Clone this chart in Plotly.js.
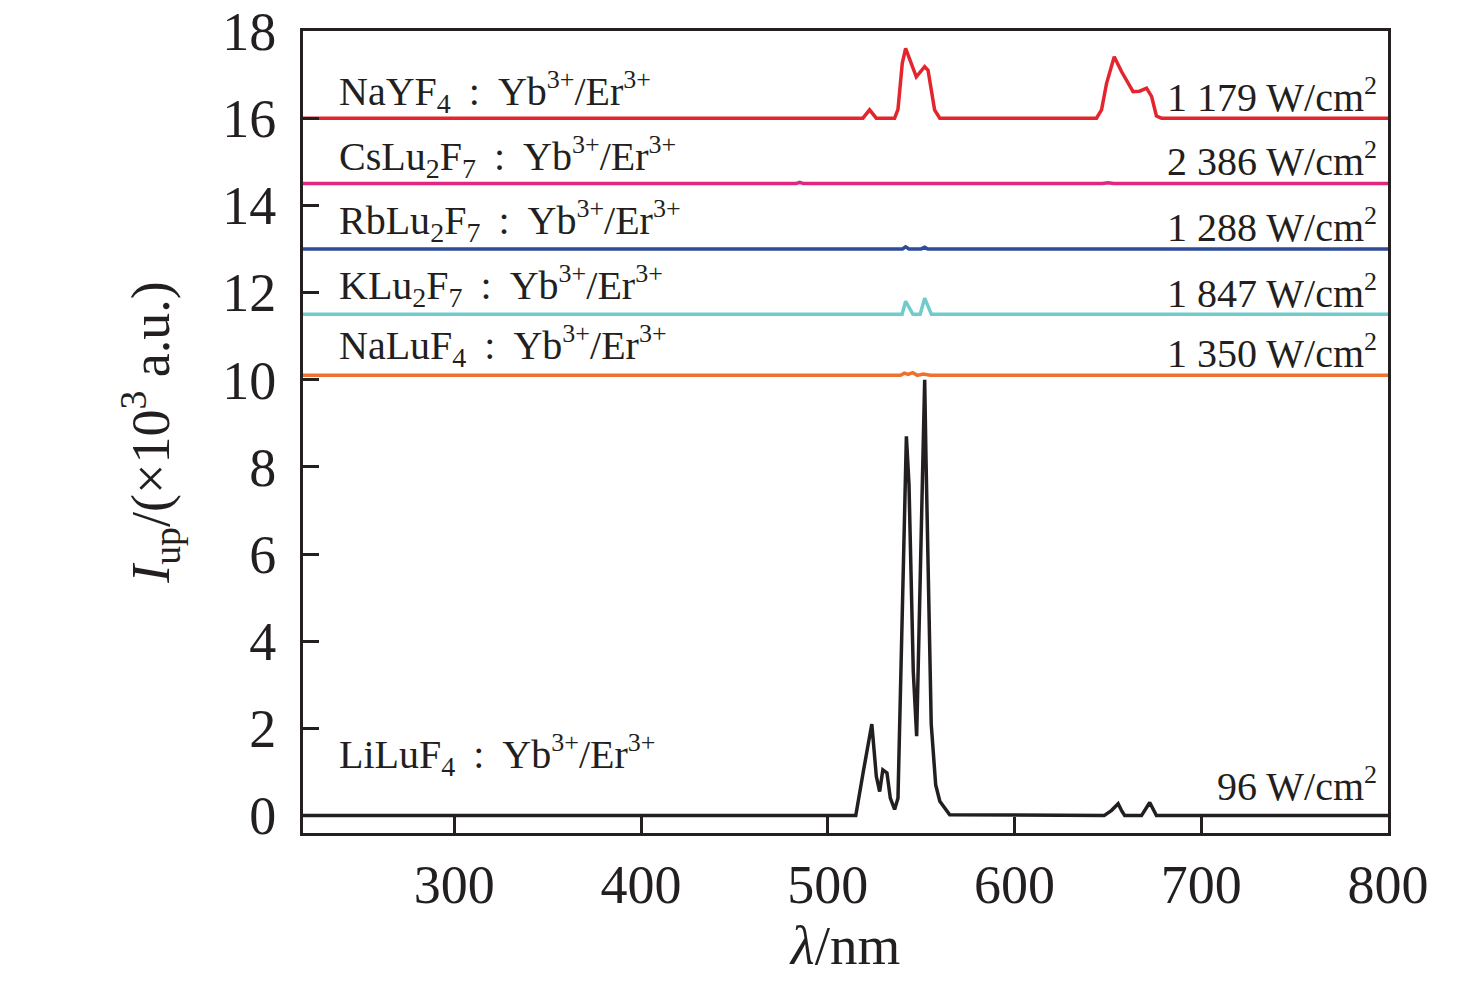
<!DOCTYPE html>
<html>
<head>
<meta charset="utf-8">
<script src="https://cdn.plot.ly/plotly-3.0.1.min.js"></script>
<style>
  html, body { margin: 0; padding: 0; background: #fff; }
  #chart { width: 1476px; height: 984px; }
</style>
</head>
<body>
<div id="chart"></div>
<script>
// spectra (each one drawn at its own vertical offset)
const liluWl = [219, 515, 519, 523.6, 526, 527.8, 529.5, 531.7, 533.5, 535.8, 537.6, 542.1, 543.5, 545.8, 547.6, 551.9, 552.6, 555.4, 557.8, 560, 565.3, 648, 652, 655.5, 657.5, 659, 668, 672.4, 676, 800];
const liluI  = [0, 0, 1.0, 2.1, 0.9, 0.55, 1.05, 0.98, 0.4, 0.14, 0.4, 8.7, 7.6, 3.3, 1.82, 10.0, 8.2, 2.1, 0.7, 0.33, 0.02, 0, 0.12, 0.27, 0.1, 0, 0, 0.3, 0, 0];

const nayWl = [219, 518.8, 522.4, 526, 535.8, 537.6, 539.9, 541.7, 547.4, 551.9, 553.7, 557.2, 560, 643.9, 646.6, 649.3, 653.4, 657.3, 663.5, 667, 670.7, 673.4, 676, 678.7, 800];
const nayI  = [16, 16, 16.19, 16, 16, 16.2, 17.26, 17.6, 16.95, 17.18, 17.1, 16.19, 16, 16, 16.19, 16.8, 17.41, 17.07, 16.61, 16.62, 16.69, 16.5, 16.05, 16, 16];

const csWl = [219, 483, 485, 487, 647, 650, 653, 800];
const csI  = [14.5, 14.5, 14.53, 14.5, 14.5, 14.52, 14.5, 14.5];

const rbWl = [219, 540, 541.7, 543.5, 550, 551.9, 553.5, 800];
const rbI  = [13, 13, 13.05, 13, 13, 13.04, 13, 13];

const kWl = [219, 539.8, 541.7, 545.6, 549.5, 551.9, 555.5, 800];
const kI  = [11.5, 11.5, 11.8, 11.5, 11.5, 11.87, 11.5, 11.5];

const naluWl = [219, 539, 541, 543, 545.5, 548, 551, 553, 555, 800];
const naluI  = [10.1, 10.1, 10.15, 10.12, 10.16, 10.1, 10.13, 10.11, 10.1, 10.1];

const sep = "\u00a0\u2009:\u00a0\u2009";
const sup = s => "<sup><span style='font-size:26px'>" + s + "</span></sup>";
const dopant = "Yb" + sup("3+") + "/Er" + sup("3+");
const names = [
  "NaYF<sub>4</sub>" + sep + dopant,
  "CsLu<sub>2</sub>F<sub>7</sub>" + sep + dopant,
  "RbLu<sub>2</sub>F<sub>7</sub>" + sep + dopant,
  "KLu<sub>2</sub>F<sub>7</sub>" + sep + dopant,
  "NaLuF<sub>4</sub>" + sep + dopant,
  "LiLuF<sub>4</sub>" + sep + dopant
];
const powers = ["1 179 W/cm" + sup("2"), "2 386 W/cm" + sup("2"), "1 288 W/cm" + sup("2"),
                "1 847 W/cm" + sup("2"), "1 350 W/cm" + sup("2"), "96 W/cm" + sup("2")];
const nameY  = [16.6, 15.12, 13.65, 12.16, 10.78, 1.38];
const powerY = [16.52, 15.05, 13.53, 12.02, 10.64, 0.72];
const colors = ["#e3262d", "#e0267f", "#2e4b9c", "#71cbcc", "#ee7130", "#231f20"];

const serif = "Liberation Serif, Times New Roman, serif";

const series = [
  [nayWl, nayI], [csWl, csI], [rbWl, rbI], [kWl, kI], [naluWl, naluI], [liluWl, liluI]
];

const data = series.map((s, i) => ({
  type: "scatter",
  mode: "lines",
  x: s[0],
  y: s[1],
  line: {color: colors[i], width: 3.5},
  showlegend: false,
  hoverinfo: "skip"
}));

const annotations = [];
names.forEach((n, i) => {
  annotations.push({
    x: 237, y: nameY[i], xref: "x", yref: "y",
    text: n, showarrow: false, xanchor: "left", yanchor: "middle",
    font: {family: serif, size: 40, color: "#231f20"}
  });
  annotations.push({
    x: 795, y: powerY[i], xref: "x", yref: "y",
    text: powers[i], showarrow: false, xanchor: "right", yanchor: "middle",
    font: {family: serif, size: 40, color: "#231f20"}
  });
});

const axisCommon = {
  showline: true, linecolor: "#231f20", linewidth: 3, mirror: true,
  ticks: "inside", ticklen: 16, tickwidth: 3, tickcolor: "#231f20",
  showgrid: false, zeroline: false,
  tickfont: {family: serif, size: 54, color: "#231f20"}
};

const layout = {
  width: 1476,
  height: 984,
  margin: {l: 303, r: 88, t: 31, b: 151},
  paper_bgcolor: "#fff",
  plot_bgcolor: "#fff",
  xaxis: Object.assign({}, axisCommon, {
    range: [219, 800], tickvals: [300, 400, 500, 600, 700, 800],
    ticklabelstandoff: 2,
    title: {text: "<i>λ</i>/nm", font: {family: serif, size: 55, color: "#231f20"}, standoff: 4}
  }),
  yaxis: Object.assign({}, axisCommon, {
    range: [-0.4, 18], tickvals: [0, 2, 4, 6, 8, 10, 12, 14, 16, 18],
    ticklabelstandoff: 13,
    title: {text: "<i>I</i><sub>up</sub>/(×10<sup>3</sup> a.u.)", font: {family: serif, size: 54, color: "#231f20"}, standoff: 36}
  }),
  annotations: annotations
};

Plotly.newPlot("chart", data, layout, {staticPlot: true});
</script>
</body>
</html>
